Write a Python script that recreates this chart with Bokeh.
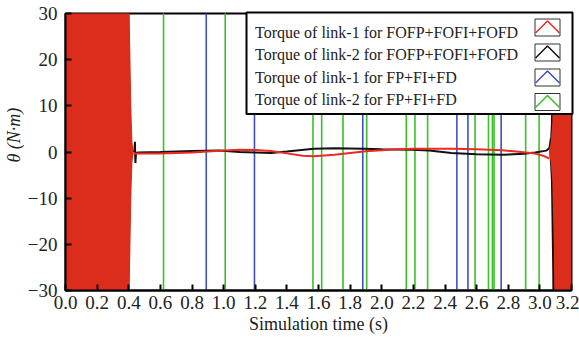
import numpy as np
from bokeh.plotting import figure
from bokeh.models import Range1d, FixedTicker, Title
from bokeh.core.properties import value
from bokeh.embed import file_html
from bokeh.resources import INLINE

# ---------------- data ----------------
# Link-1, FOFP+FOFI+FOFD (red): oscillation envelopes (start / end) and slow part
red_env_start_t = [0.0, 0.388, 0.398, 0.408, 0.416, 0.423, 0.430]
red_env_start_a = [60, 60, 45, 25, 10, 2, 0.4]
red_env_end_t = [3.058, 3.068, 3.078, 3.088, 3.098, 3.2]
red_env_end_a = [0.4, 2, 6, 20, 60, 60]
red_t = [0.43, 0.50, 0.60, 0.70, 0.80, 0.90, 1.00, 1.10, 1.20, 1.30, 1.40, 1.50,
         1.57, 1.70, 1.80, 1.90, 2.00, 2.10, 2.20, 2.30, 2.44, 2.60, 2.76, 2.85,
         2.97, 3.02, 3.06]
red_v = [-0.3, -0.3, -0.3, -0.2, -0.1, 0.1, 0.3, 0.5, 0.45, 0.2, -0.3, -0.8,
         -0.9, -0.6, -0.2, 0.15, 0.4, 0.6, 0.7, 0.7, 0.7, 0.6, 0.4, 0.1,
         -0.35, -0.8, -1.4]

# Link-2, FOFP+FOFI+FOFD (black)
blk_env_start_t = [0.0, 0.393, 0.403, 0.413, 0.423]
blk_env_start_a = [60, 60, 30, 8, 1]
blk_env_end_t = [3.062, 3.070, 3.078, 3.086, 3.2]
blk_env_end_a = [1, 6, 25, 60, 60]
blk_t = [0.43, 0.436, 0.439, 0.442, 0.446, 0.46, 0.60, 0.80, 0.97, 1.10, 1.20,
         1.30, 1.40, 1.57, 1.70, 1.89, 2.00, 2.19, 2.30, 2.44, 2.60, 2.76, 2.90,
         2.97, 3.04, 3.06, 3.07]
blk_v = [0.0, 0.3, 2.2, -2.4, -0.2, -0.1, 0.0, 0.2, 0.35, 0.0, -0.1,
         -0.2, 0.1, 0.7, 0.8, 0.7, 0.6, 0.5, 0.3, -0.2, -0.5, -0.6, -0.4,
         -0.1, 0.3, 0.8, 3.0]

# FP+FI+FD: unstable spikes (times at which the torque shoots far off-scale)
blue_spike_t = [0.89, 1.195, 1.88, 2.475, 2.545, 2.755]
green_spike_t = [0.62, 1.01, 1.565, 1.62, 1.755, 1.905, 2.155, 2.21, 2.29,
                 2.59, 2.675, 2.70, 2.71, 2.91, 2.995]
spike_amp = 1000.0

x_ticks = [0.0, 0.2, 0.4, 0.6, 0.8, 1.0, 1.2, 1.4, 1.6, 1.8, 2.0, 2.2, 2.4,
           2.6, 2.8, 3.0, 3.2]
x_tick_labels = ["0.0", "0.2", "0.4", "0.6", "0.8", "1.0", "1.2", "1.4", "1.6",
                 "1.8", "2.0", "2.2", "2.4", "2.6", "2.8", "3.0", "3.2"]
y_ticks = [-30, -20, -10, 0, 10, 20, 30]
y_tick_labels = ["\u221230", "\u221220", "\u221210", "0", "10", "20", "30"]

legend_labels = ["Torque of  link-1 for FOFP+FOFI+FOFD",
                 "Torque of  link-2 for FOFP+FOFI+FOFD",
                 "Torque of  link-1 for FP+FI+FD",
                 "Torque of  link-2 for FP+FI+FD"]
x_label = "Simulation time (s)"
y_label = "\u03b8 (N\u00b7m)"

RED = "#dc2c1c"
RED_LINE = "#ec2a20"
BLACK = "#111111"
BLUE = "#4050c0"
GREEN = "#3cc02a"
FONT = "Liberation Serif"
TXT = "#222222"

# ---------------- figure ----------------
W, H = 579, 338
BL, BR, BT, BB = 65, 8, 13, 48
FW, FH = W - BL - BR, H - BT - BB

p = figure(width=W, height=H, output_backend="svg", toolbar_location=None,
           x_range=Range1d(0, 3.2), y_range=Range1d(-30, 30),
           min_border_left=BL, min_border_right=BR, min_border_top=BT,
           min_border_bottom=BB)
p.extra_x_ranges = {"lx": Range1d(0, FW)}
p.extra_y_ranges = {"ly": Range1d(FH, 0)}
p.xgrid.visible = False
p.ygrid.visible = False
p.outline_line_color = "black"
p.outline_line_width = 2
p.background_fill_color = "white"
p.border_fill_color = "white"

# spikes
p.segment(x0=blue_spike_t, y0=[-spike_amp] * len(blue_spike_t),
          x1=blue_spike_t, y1=[spike_amp] * len(blue_spike_t),
          line_color=BLUE, line_width=1.6)
p.segment(x0=green_spike_t, y0=[-spike_amp] * len(green_spike_t),
          x1=green_spike_t, y1=[spike_amp] * len(green_spike_t),
          line_color=GREEN, line_width=1.6)

# black envelopes + line
for t, a in ((blk_env_start_t, blk_env_start_a), (blk_env_end_t, blk_env_end_a)):
    a = np.array(a, dtype=float)
    p.varea(x=t, y1=-a, y2=a, fill_color=BLACK)
p.line(blk_t, blk_v, line_color=BLACK, line_width=2)

# red envelopes + line
for t, a in ((red_env_start_t, red_env_start_a), (red_env_end_t, red_env_end_a)):
    a = np.array(a, dtype=float)
    p.varea(x=t, y1=-a, y2=a, fill_color=RED)
p.line(red_t, red_v, line_color=RED_LINE, line_width=2)

# ---------------- axes ----------------
for ax in (p.xaxis[0], p.yaxis[0]):
    ax.axis_line_width = 2
    ax.axis_line_color = "black"
    ax.major_tick_in = 6
    ax.major_tick_out = 0
    ax.major_tick_line_width = 2
    ax.minor_tick_line_color = None
    ax.major_label_text_font = FONT
    ax.major_label_text_font_size = "19px"
    ax.major_label_text_color = TXT
    ax.axis_label_text_font = FONT
    ax.axis_label_text_font_size = "18px"
    ax.axis_label_text_color = TXT

p.xaxis.ticker = FixedTicker(ticks=x_ticks)
p.xaxis.major_label_overrides = dict(zip(x_ticks, x_tick_labels))
p.xaxis.axis_label = x_label
p.xaxis.axis_label_text_font_style = "normal"
p.xaxis.major_label_standoff = 5
p.xaxis.axis_label_standoff = 2

p.yaxis.ticker = FixedTicker(ticks=y_ticks)
p.yaxis.major_label_overrides = dict(zip(y_ticks, y_tick_labels))
p.yaxis.major_label_standoff = 8

# y label as a left-side title, started part-way up like the original
p.add_layout(Title(text=y_label, align="left", offset=128,
                   text_font=FONT, text_font_size="18px",
                   text_font_style="italic", text_color=TXT, standoff=2),
             "left")

# ---------------- legend (custom, glyph at right) ----------------
LX0, LX1, LY0, LY1 = 181, FW + 1, -1, 100.5
p.quad(left=[LX0], right=[LX1], top=[LY0], bottom=[LY1],
       fill_color="white", line_color="black", line_width=2,
       x_range_name="lx", y_range_name="ly", level="overlay")
text_y = [18.5, 40.5, 63.5, 85.5]
box_cy = [14, 39, 64, 88.5]
colors = [RED_LINE, BLACK, BLUE, GREEN]
p.text(x=[189.5] * 4, y=text_y, text=legend_labels,
       text_font=value(FONT), text_font_size="16px", text_color=TXT,
       text_baseline="middle", text_align="left",
       x_range_name="lx", y_range_name="ly", level="overlay")
bx0, bx1, bh = 469.5, 494.5, 17
p.quad(left=[bx0] * 4, right=[bx1] * 4,
       top=[c - bh / 2 for c in box_cy], bottom=[c + bh / 2 for c in box_cy],
       fill_color="white", line_color="#333333", line_width=1,
       x_range_name="lx", y_range_name="ly", level="overlay")
for c, col in zip(box_cy, colors):
    p.line(x=[bx0 + 0.5, (bx0 + bx1) / 2, bx1 - 0.5],
           y=[c + bh / 2 - 3, c - bh / 2 + 2, c + bh / 2 - 3],
           line_color=col, line_width=1.5,
           x_range_name="lx", y_range_name="ly", level="overlay")

open("out.html", "w").write(file_html(p, INLINE))
